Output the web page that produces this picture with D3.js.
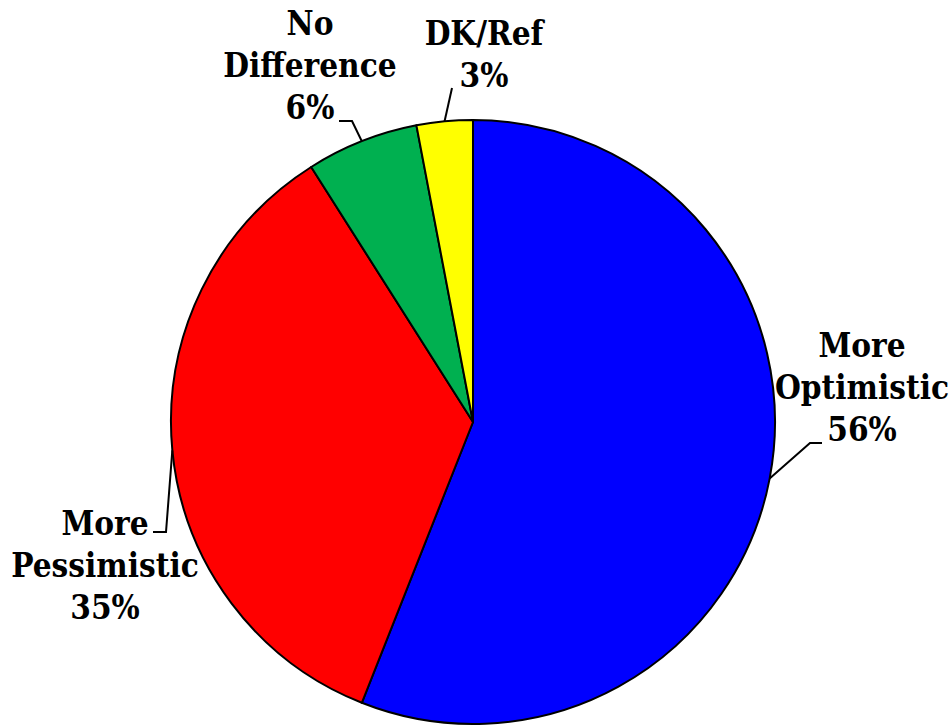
<!DOCTYPE html>
<html>
<head>
<meta charset="utf-8">
<script src="https://cdn.jsdelivr.net/npm/d3@7"></script>
<style>
  body { margin: 0; background: #fff; }
</style>
</head>
<body>
<script>
// chart data
var categories = ["More Optimistic", "More Pessimistic", "No Difference", "DK/Ref"];
var values = [56, 35, 6, 3];
var colors = ["#0000ff", "#ff0000", "#00b050", "#ffff00"];

var width = 951, height = 726;
var cx = 473, cy = 422, radius = 302;

// where each label sits (center x, first baseline) and its leader elbow
var labelLayout = {
    "More Optimistic":  {x: 862, y: 357, line: [[822, 443], [810, 443]]},
    "More Pessimistic": {x: 105, y: 535, line: [[153, 532], [166, 532]]},
    "No Difference":    {x: 310, y: 35,  line: [[339, 121], [352, 121]]},
    "DK/Ref":           {x: 484, y: 45,  line: [[452, 88]]}
};
var lineGap = 42;

var pieData = categories.map((c, i) => ({name: c, value: values[i], color: colors[i]}));

var pie = d3.pie().sort(null).value(d => d.value);
var arc = d3.arc().innerRadius(0).outerRadius(radius);
var arcs = pie(pieData);

var svg = d3.select("body").append("svg")
    .attr("width", width)
    .attr("height", height);

var g = svg.append("g")
    .attr("transform", "translate(" + cx + "," + cy + ")");

g.selectAll("path")
    .data(arcs)
    .enter()
    .append("path")
    .attr("d", arc)
    .attr("fill", d => d.data.color)
    .attr("stroke", "#000")
    .attr("stroke-width", 2)
    .attr("stroke-linejoin", "round");

// leader lines: label elbow -> point on the rim at the slice's mid angle
svg.append("g")
    .selectAll("polyline")
    .data(arcs)
    .enter()
    .append("polyline")
    .attr("points", d => {
        var mid = (d.startAngle + d.endAngle) / 2;
        var rim = [cx + radius * Math.sin(mid), cy - radius * Math.cos(mid)];
        var pts = labelLayout[d.data.name].line.concat([rim]);
        return pts.map(p => p.join(",")).join(" ");
    })
    .attr("fill", "none")
    .attr("stroke", "#000")
    .attr("stroke-width", 2);

// labels
var labels = svg.append("g")
    .attr("font-family", "'DejaVu Serif Condensed', 'DejaVu Serif', serif")
    .attr("font-weight", "bold")
    .attr("font-size", 33)
    .style("font-stretch", "condensed")
    .selectAll("text")
    .data(arcs)
    .enter()
    .append("text")
    .attr("text-anchor", "middle")
    .attr("x", d => labelLayout[d.data.name].x)
    .attr("y", d => labelLayout[d.data.name].y);

labels.each(function(d) {
    var lines = d.data.name.split(" ").concat([d.data.value + "%"]);
    var t = d3.select(this);
    lines.forEach((l, i) => {
        t.append("tspan")
            .attr("x", labelLayout[d.data.name].x)
            .attr("dy", i == 0 ? 0 : lineGap)
            .text(l);
    });
});
</script>
</body>
</html>
